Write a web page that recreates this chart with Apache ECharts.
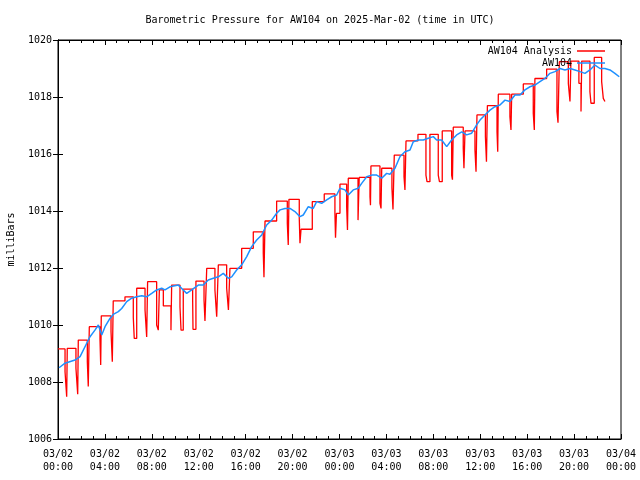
<!DOCTYPE html>
<html>
<head>
<meta charset="utf-8">
<script src="https://cdn.jsdelivr.net/npm/echarts@6/dist/echarts.min.js"></script>
<style>html,body{margin:0;padding:0;background:#fff;}#c{width:640px;height:480px;}</style>
</head>
<body>
<div id="c"></div>
<script>
// X axis: hours since 03/02 00:00 UTC
const xTickLabels = ['03/02\n00:00','03/02\n04:00','03/02\n08:00','03/02\n12:00','03/02\n16:00','03/02\n20:00',
  '03/03\n00:00','03/03\n04:00','03/03\n08:00','03/03\n12:00','03/03\n16:00','03/03\n20:00','03/04\n00:00'];

// AW104 observations (hours, mbar)
const obsHours = [0.09,0.60,1.45,1.88,2.45,2.73,3.15,3.44,3.73,4.01,4.43,4.71,5.14,5.43,5.86,6.28,6.71,7.14,7.56,7.99,
  8.41,8.84,9.12,9.55,10.26,10.68,10.97,11.40,11.96,12.39,12.81,13.24,13.67,14.09,14.52,14.81,15.23,15.66,16.09,16.51,
  16.94,17.37,17.79,18.22,18.64,18.93,19.35,19.78,20.20,20.63,20.91,21.34,21.76,22.05,22.48,22.91,23.33,23.76,24.04,24.47,
  24.75,25.17,25.60,25.89,26.32,26.74,27.17,27.60,28.02,28.30,28.73,29.16,29.58,30.01,30.29,30.72,31.14,31.57,32.00,32.28,
  32.71,33.14,33.56,33.99,34.42,34.84,35.27,35.69,35.98,36.40,36.83,37.25,37.68,38.11,38.53,38.96,39.39,39.81,40.24,40.66,
  41.09,41.52,41.94,42.37,42.80,43.22,43.65,44.08,44.50,44.93,45.35,45.78,46.21,46.63,47.06,47.48,47.85];
const obsValues = [1008.50,1008.66,1008.77,1008.89,1009.36,1009.59,1009.82,1010.00,1009.65,1009.94,1010.23,1010.37,1010.47,1010.58,1010.82,1010.94,1010.99,1011.03,1010.99,1011.11,
  1011.23,1011.29,1011.23,1011.34,1011.40,1011.23,1011.11,1011.23,1011.40,1011.40,1011.58,1011.64,1011.69,1011.81,1011.64,1011.69,1011.93,1012.11,1012.40,1012.75,
  1012.98,1013.16,1013.51,1013.68,1013.92,1014.04,1014.09,1014.09,1013.98,1013.80,1013.86,1014.15,1014.09,1014.33,1014.27,1014.39,1014.50,1014.56,1014.80,1014.74,
  1014.56,1014.74,1014.80,1014.97,1015.20,1015.26,1015.26,1015.15,1015.32,1015.29,1015.50,1015.91,1016.08,1016.14,1016.43,1016.49,1016.49,1016.55,1016.61,1016.49,
  1016.49,1016.26,1016.49,1016.67,1016.78,1016.67,1016.73,1017.02,1017.19,1017.37,1017.54,1017.66,1017.72,1017.89,1017.84,1018.07,1018.07,1018.25,1018.36,1018.42,
  1018.54,1018.65,1018.83,1018.89,1019.00,1018.95,1019.00,1018.95,1018.89,1018.83,1018.95,1019.12,1019.00,1019.00,1018.95,1018.83,1018.71];

// AW104 Analysis: per block (hours, mbar)
const anaRise  = [0.00,0.79,1.73,2.67,3.69,4.71,5.71,6.71,7.64,8.64,9.69,10.68,11.76,12.68,13.67,14.66,15.66,16.65,17.65,18.64,19.69,20.72,21.68,22.70,23.74,24.04,24.75,25.68,26.68,27.60,28.67,29.67,30.69,31.71,32.76,33.70,34.70,35.72,36.61,37.54,38.68,39.67,40.66,41.66,42.74,43.73,44.65,45.72];
const anaTop   = [1009.16,1009.18,1009.47,1009.94,1010.32,1010.85,1010.99,1011.29,1011.52,1011.23,1011.40,1011.26,1011.54,1011.99,1012.11,1011.99,1012.69,1013.27,1013.65,1014.35,1014.41,1013.36,1014.33,1014.60,1013.92,1014.94,1015.15,1015.18,1015.58,1015.50,1015.96,1016.46,1016.69,1016.69,1016.81,1016.94,1016.81,1017.37,1017.70,1018.10,1018.10,1018.46,1018.65,1018.98,1019.24,1019.26,1019.26,1019.39];
const anaDrop  = [0.60,1.53,2.50,3.58,4.52,5.71,6.42,7.42,8.41,8.98,10.40,11.48,12.45,13.38,14.38,15.66,16.65,17.50,18.64,19.55,20.57,21.68,22.70,23.61,24.04,24.61,25.58,26.60,27.45,28.47,29.50,30.69,31.37,32.42,33.56,34.55,35.55,36.44,37.43,38.53,39.67,40.52,41.66,42.54,43.51,44.41,45.35,46.35];
const anaMid   = [1008.36,1008.48,1008.71,1009.51,1009.77,1010.85,1010.26,1010.53,1010.00,1010.67,1010.64,1010.88,1010.88,1011.23,1011.29,1011.99,1012.69,1012.53,1013.65,1013.57,1013.74,1013.36,1014.33,1013.92,1013.92,1014.15,1013.68,1014.50,1014.27,1014.81,1015.20,1016.46,1015.26,1015.26,1015.26,1016.20,1016.14,1016.61,1016.78,1017.31,1018.10,1017.43,1018.65,1017.49,1018.48,1018.48,1018.19,1018.54];
const anaSpike = [0.74,1.68,2.58,3.64,4.63,5.71,6.50,7.56,8.55,9.63,10.49,11.51,12.53,13.53,14.53,15.66,16.65,17.56,18.64,19.63,20.63,21.68,22.70,23.66,24.04,24.68,25.65,26.64,27.54,28.56,29.58,30.69,31.46,32.52,33.63,34.61,35.64,36.53,37.49,38.62,39.67,40.61,41.66,42.63,43.65,44.59,45.44,46.49];
const anaLow   = [1007.48,1007.57,1007.84,1008.60,1008.71,1010.85,1009.53,1009.58,1009.82,1009.82,1009.82,1009.85,1010.14,1010.29,1010.53,1011.99,1012.69,1011.68,1013.65,1012.81,1012.87,1013.36,1014.33,1013.06,1013.92,1013.33,1013.68,1014.20,1014.09,1014.05,1014.74,1016.46,1015.03,1015.03,1015.10,1015.50,1015.38,1015.73,1016.08,1016.84,1018.10,1016.84,1018.65,1017.10,1017.84,1017.49,1017.78,1017.95];
const anaEndHour = 46.63, anaEndValue = 1017.84;

const obsData = obsHours.map((h, i) => [h, obsValues[i]]);
const anaData = [];
for (let i = 0; i < anaRise.length; i++) {
  if (i > 0) anaData.push([anaRise[i], anaLow[i - 1]]);
  anaData.push([anaRise[i], anaTop[i]]);
  anaData.push([anaDrop[i], anaTop[i]]);
  anaData.push([anaDrop[i], anaMid[i]]);
  anaData.push([anaSpike[i], anaMid[i]]);
  anaData.push([anaSpike[i], anaLow[i]]);
}
anaData.push([anaEndHour, anaEndValue]);

const FONT = 'DejaVu Sans Mono';
const txt = { fontFamily: FONT, fontSize: 10, color: '#000' };
const tickOn = { show: true, inside: true, length: 5, lineStyle: { color: '#000', width: 1 } };
const minorOn = { show: true, splitNumber: 4, length: 3, lineStyle: { color: '#000', width: 1 } };

const chart = echarts.init(document.getElementById('c'), null, { renderer: 'canvas' });
chart.setOption({
  animation: false,
  backgroundColor: '#fff',
  title: {
    text: 'Barometric Pressure for AW104 on 2025-Mar-02 (time in UTC)',
    left: 'center', top: 10,
    textStyle: { fontFamily: FONT, fontSize: 10, fontWeight: 'normal', color: '#000' }
  },
  legend: {
    orient: 'vertical', right: 30, top: 41, align: 'right',
    icon: 'rect', itemWidth: 28, itemHeight: 1.5, itemGap: 2,
    textStyle: { fontFamily: FONT, fontSize: 10, color: '#000' },
    data: ['AW104 Analysis', 'AW104']
  },
  grid: { left: 58, right: 19, top: 40, bottom: 41, outerBoundsMode: 'none', containLabel: false,
          show: true, borderColor: '#000', borderWidth: 1, backgroundColor: 'transparent' },
  xAxis: [{
    type: 'value', min: 0, max: 48, interval: 4,
    axisLine: { show: true, lineStyle: { color: '#000' } },
    axisTick: tickOn, minorTick: minorOn,
    splitLine: { show: false },
    axisLabel: { ...txt, margin: 9, lineHeight: 13, formatter: v => xTickLabels[Math.round(v / 4)] }
  }, {
    type: 'value', min: 0, max: 48, interval: 4, position: 'top',
    axisLine: { show: true, lineStyle: { color: '#000' } },
    axisTick: tickOn, minorTick: minorOn,
    splitLine: { show: false }, axisLabel: { show: false }
  }],
  yAxis: [{
    type: 'value', min: 1006, max: 1020, interval: 2,
    name: 'milliBars', nameLocation: 'middle', nameGap: 42, nameRotate: 90,
    nameTextStyle: { fontFamily: FONT, fontSize: 10, color: '#000' },
    axisLine: { show: true, lineStyle: { color: '#000' } },
    axisTick: tickOn, splitLine: { show: false },
    axisLabel: { ...txt, margin: 6, formatter: v => String(v) }
  }, {
    type: 'value', min: 1006, max: 1020, interval: 2, position: 'right',
    axisLine: { show: true, lineStyle: { color: '#000' } },
    axisTick: tickOn, splitLine: { show: false }, axisLabel: { show: false }
  }],
  series: [{
    name: 'AW104 Analysis', type: 'line', data: anaData, symbol: 'none', showSymbol: false,
    lineStyle: { color: '#ff0000', width: 1.3 }, itemStyle: { color: '#ff0000' },
    xAxisIndex: 0, yAxisIndex: 0, z: 2
  }, {
    name: 'AW104', type: 'line', data: obsData, symbol: 'none', showSymbol: false,
    lineStyle: { color: '#1e90ff', width: 1.5 }, itemStyle: { color: '#1e90ff' },
    xAxisIndex: 0, yAxisIndex: 0, z: 3
  }]
});
</script>
</body>
</html>
